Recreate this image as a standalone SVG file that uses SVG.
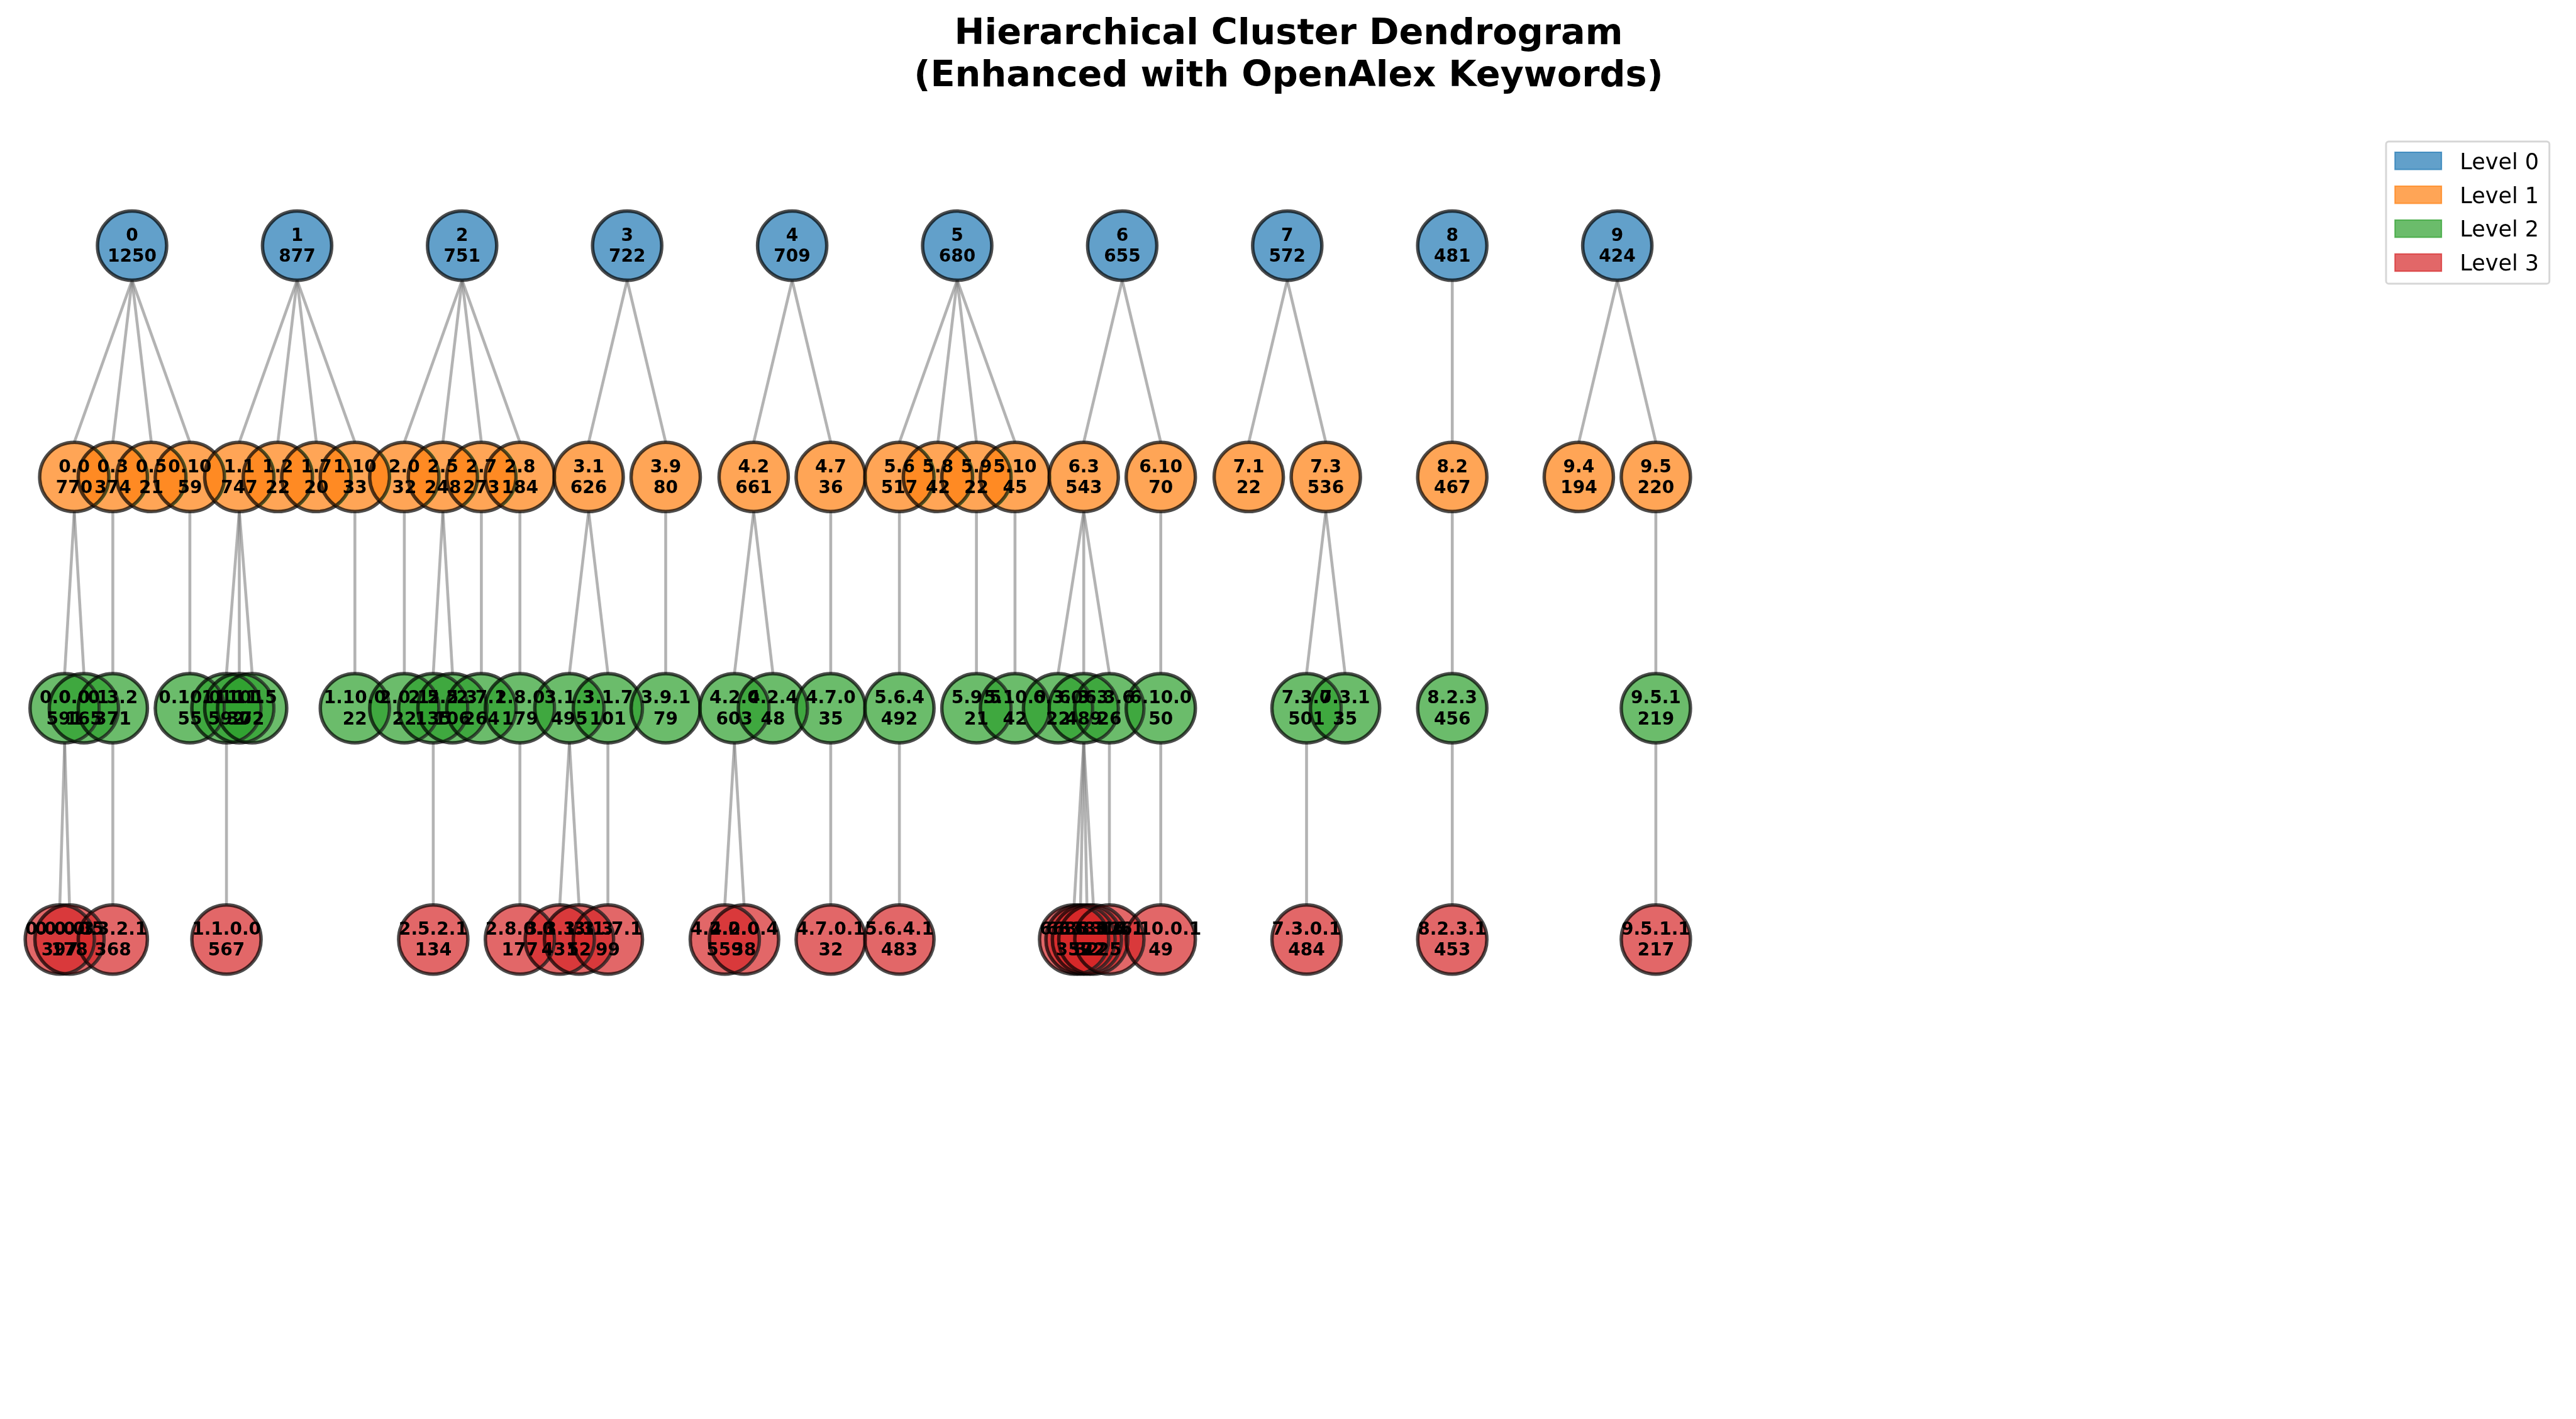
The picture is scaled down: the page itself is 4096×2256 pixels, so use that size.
<svg xmlns="http://www.w3.org/2000/svg" width="4096" height="2256" viewBox="0 0 4096 2256">
<style>
.bg{fill:#fff}
.title{font-family:"DejaVu Sans",sans-serif;font-weight:bold;font-size:57.3px;text-anchor:middle;fill:#000}
.edges line{stroke:#808080;stroke-opacity:.6;stroke-width:4.6;stroke-linecap:butt}
.node circle{stroke:#000;stroke-opacity:.7;stroke-width:5.5;fill-opacity:.7;mix-blend-mode:darken}
.node text{font-family:"DejaVu Sans",sans-serif;font-weight:bold;font-size:28px;text-anchor:middle;fill:#000}
.lv0 circle{fill:#1f77b4}
.lv1 circle{fill:#ff7f0e}
.lv2 circle{fill:#2ca02c}
.lv3 circle{fill:#d62728}
.legend-frame{fill:#fff;fill-opacity:.8;stroke:#ccc;stroke-opacity:.8;stroke-width:2.9}
.patch{fill-opacity:.7;stroke-opacity:.7;stroke-width:2}
.legend text{font-family:"DejaVu Sans",sans-serif;font-size:35px;fill:#000}
</style>
<rect class="bg" x="0" y="0" width="4096" height="2256"/>
<g id="title">
<text class="title" x="2049" y="70">Hierarchical Cluster Dendrogram</text>
<text class="title" x="2049" y="136.5">(Enhanced with OpenAlex Keywords)</text>
</g>
<g id="connectors" class="edges">
<line x1="210.0" y1="445.6" x2="118.1" y2="703.3"/>
<line x1="210.0" y1="445.6" x2="179.4" y2="703.3"/>
<line x1="210.0" y1="445.6" x2="240.6" y2="703.3"/>
<line x1="210.0" y1="445.6" x2="301.9" y2="703.3"/>
<line x1="472.4" y1="445.6" x2="380.5" y2="703.3"/>
<line x1="472.4" y1="445.6" x2="441.8" y2="703.3"/>
<line x1="472.4" y1="445.6" x2="503.0" y2="703.3"/>
<line x1="472.4" y1="445.6" x2="564.3" y2="703.3"/>
<line x1="734.8" y1="445.6" x2="642.9" y2="703.3"/>
<line x1="734.8" y1="445.6" x2="704.2" y2="703.3"/>
<line x1="734.8" y1="445.6" x2="765.4" y2="703.3"/>
<line x1="734.8" y1="445.6" x2="826.7" y2="703.3"/>
<line x1="997.2" y1="445.6" x2="936.0" y2="703.3"/>
<line x1="997.2" y1="445.6" x2="1058.5" y2="703.3"/>
<line x1="1259.6" y1="445.6" x2="1198.4" y2="703.3"/>
<line x1="1259.6" y1="445.6" x2="1320.9" y2="703.3"/>
<line x1="1522.0" y1="445.6" x2="1430.1" y2="703.3"/>
<line x1="1522.0" y1="445.6" x2="1491.4" y2="703.3"/>
<line x1="1522.0" y1="445.6" x2="1552.6" y2="703.3"/>
<line x1="1522.0" y1="445.6" x2="1613.9" y2="703.3"/>
<line x1="1784.4" y1="445.6" x2="1723.2" y2="703.3"/>
<line x1="1784.4" y1="445.6" x2="1845.7" y2="703.3"/>
<line x1="2046.8" y1="445.6" x2="1985.6" y2="703.3"/>
<line x1="2046.8" y1="445.6" x2="2108.1" y2="703.3"/>
<line x1="2309.2" y1="445.6" x2="2309.2" y2="703.3"/>
<line x1="2571.6" y1="445.6" x2="2510.4" y2="703.3"/>
<line x1="2571.6" y1="445.6" x2="2632.9" y2="703.3"/>
<line x1="118.1" y1="813.3" x2="102.8" y2="1071.0"/>
<line x1="118.1" y1="813.3" x2="133.4" y2="1071.0"/>
<line x1="179.4" y1="813.3" x2="179.4" y2="1071.0"/>
<line x1="301.9" y1="813.3" x2="301.9" y2="1071.0"/>
<line x1="380.5" y1="813.3" x2="360.1" y2="1071.0"/>
<line x1="380.5" y1="813.3" x2="380.5" y2="1071.0"/>
<line x1="380.5" y1="813.3" x2="400.9" y2="1071.0"/>
<line x1="564.3" y1="813.3" x2="564.3" y2="1071.0"/>
<line x1="642.9" y1="813.3" x2="642.9" y2="1071.0"/>
<line x1="704.2" y1="813.3" x2="688.9" y2="1071.0"/>
<line x1="704.2" y1="813.3" x2="719.5" y2="1071.0"/>
<line x1="765.4" y1="813.3" x2="765.4" y2="1071.0"/>
<line x1="826.7" y1="813.3" x2="826.7" y2="1071.0"/>
<line x1="936.0" y1="813.3" x2="905.4" y2="1071.0"/>
<line x1="936.0" y1="813.3" x2="966.6" y2="1071.0"/>
<line x1="1058.5" y1="813.3" x2="1058.5" y2="1071.0"/>
<line x1="1198.4" y1="813.3" x2="1167.8" y2="1071.0"/>
<line x1="1198.4" y1="813.3" x2="1229.0" y2="1071.0"/>
<line x1="1320.9" y1="813.3" x2="1320.9" y2="1071.0"/>
<line x1="1430.1" y1="813.3" x2="1430.1" y2="1071.0"/>
<line x1="1552.6" y1="813.3" x2="1552.6" y2="1071.0"/>
<line x1="1613.9" y1="813.3" x2="1613.9" y2="1071.0"/>
<line x1="1723.2" y1="813.3" x2="1682.4" y2="1071.0"/>
<line x1="1723.2" y1="813.3" x2="1723.2" y2="1071.0"/>
<line x1="1723.2" y1="813.3" x2="1764.0" y2="1071.0"/>
<line x1="1845.7" y1="813.3" x2="1845.7" y2="1071.0"/>
<line x1="2108.1" y1="813.3" x2="2077.5" y2="1071.0"/>
<line x1="2108.1" y1="813.3" x2="2138.7" y2="1071.0"/>
<line x1="2309.2" y1="813.3" x2="2309.2" y2="1071.0"/>
<line x1="2632.9" y1="813.3" x2="2632.9" y2="1071.0"/>
<line x1="102.8" y1="1181.0" x2="95.1" y2="1438.7"/>
<line x1="102.8" y1="1181.0" x2="110.5" y2="1438.7"/>
<line x1="179.4" y1="1181.0" x2="179.4" y2="1438.7"/>
<line x1="360.1" y1="1181.0" x2="360.1" y2="1438.7"/>
<line x1="688.9" y1="1181.0" x2="688.9" y2="1438.7"/>
<line x1="826.7" y1="1181.0" x2="826.7" y2="1438.7"/>
<line x1="905.4" y1="1181.0" x2="890.1" y2="1438.7"/>
<line x1="905.4" y1="1181.0" x2="920.7" y2="1438.7"/>
<line x1="966.6" y1="1181.0" x2="966.6" y2="1438.7"/>
<line x1="1167.8" y1="1181.0" x2="1152.5" y2="1438.7"/>
<line x1="1167.8" y1="1181.0" x2="1183.1" y2="1438.7"/>
<line x1="1320.9" y1="1181.0" x2="1320.9" y2="1438.7"/>
<line x1="1430.1" y1="1181.0" x2="1430.1" y2="1438.7"/>
<line x1="1723.2" y1="1181.0" x2="1707.9" y2="1438.7"/>
<line x1="1723.2" y1="1181.0" x2="1718.1" y2="1438.7"/>
<line x1="1723.2" y1="1181.0" x2="1728.3" y2="1438.7"/>
<line x1="1723.2" y1="1181.0" x2="1738.5" y2="1438.7"/>
<line x1="1764.0" y1="1181.0" x2="1764.0" y2="1438.7"/>
<line x1="1845.7" y1="1181.0" x2="1845.7" y2="1438.7"/>
<line x1="2077.5" y1="1181.0" x2="2077.5" y2="1438.7"/>
<line x1="2309.2" y1="1181.0" x2="2309.2" y2="1438.7"/>
<line x1="2632.9" y1="1181.0" x2="2632.9" y2="1438.7"/>
</g>
<g id="nodes">
<g id="node-0" class="node lv0"><circle cx="210.0" cy="390.6" r="55"/><text x="210.0" y="382.8">0<tspan x="210.0" dy="33.5">1250</tspan></text></g>
<g id="node-1" class="node lv0"><circle cx="472.4" cy="390.6" r="55"/><text x="472.4" y="382.8">1<tspan x="472.4" dy="33.5">877</tspan></text></g>
<g id="node-2" class="node lv0"><circle cx="734.8" cy="390.6" r="55"/><text x="734.8" y="382.8">2<tspan x="734.8" dy="33.5">751</tspan></text></g>
<g id="node-3" class="node lv0"><circle cx="997.2" cy="390.6" r="55"/><text x="997.2" y="382.8">3<tspan x="997.2" dy="33.5">722</tspan></text></g>
<g id="node-4" class="node lv0"><circle cx="1259.6" cy="390.6" r="55"/><text x="1259.6" y="382.8">4<tspan x="1259.6" dy="33.5">709</tspan></text></g>
<g id="node-5" class="node lv0"><circle cx="1522.0" cy="390.6" r="55"/><text x="1522.0" y="382.8">5<tspan x="1522.0" dy="33.5">680</tspan></text></g>
<g id="node-6" class="node lv0"><circle cx="1784.4" cy="390.6" r="55"/><text x="1784.4" y="382.8">6<tspan x="1784.4" dy="33.5">655</tspan></text></g>
<g id="node-7" class="node lv0"><circle cx="2046.8" cy="390.6" r="55"/><text x="2046.8" y="382.8">7<tspan x="2046.8" dy="33.5">572</tspan></text></g>
<g id="node-8" class="node lv0"><circle cx="2309.2" cy="390.6" r="55"/><text x="2309.2" y="382.8">8<tspan x="2309.2" dy="33.5">481</tspan></text></g>
<g id="node-9" class="node lv0"><circle cx="2571.6" cy="390.6" r="55"/><text x="2571.6" y="382.8">9<tspan x="2571.6" dy="33.5">424</tspan></text></g>

<g id="node-0-0" class="node lv1"><circle cx="118.1" cy="758.3" r="55"/><text x="118.1" y="750.5">0.0<tspan x="118.1" dy="33.5">770</tspan></text></g>
<g id="node-0-3" class="node lv1"><circle cx="179.4" cy="758.3" r="55"/><text x="179.4" y="750.5">0.3<tspan x="179.4" dy="33.5">374</tspan></text></g>
<g id="node-0-5" class="node lv1"><circle cx="240.6" cy="758.3" r="55"/><text x="240.6" y="750.5">0.5<tspan x="240.6" dy="33.5">21</tspan></text></g>
<g id="node-0-10" class="node lv1"><circle cx="301.9" cy="758.3" r="55"/><text x="301.9" y="750.5">0.10<tspan x="301.9" dy="33.5">59</tspan></text></g>
<g id="node-1-1" class="node lv1"><circle cx="380.5" cy="758.3" r="55"/><text x="380.5" y="750.5">1.1<tspan x="380.5" dy="33.5">747</tspan></text></g>
<g id="node-1-2" class="node lv1"><circle cx="441.8" cy="758.3" r="55"/><text x="441.8" y="750.5">1.2<tspan x="441.8" dy="33.5">22</tspan></text></g>
<g id="node-1-7" class="node lv1"><circle cx="503.0" cy="758.3" r="55"/><text x="503.0" y="750.5">1.7<tspan x="503.0" dy="33.5">20</tspan></text></g>
<g id="node-1-10" class="node lv1"><circle cx="564.3" cy="758.3" r="55"/><text x="564.3" y="750.5">1.10<tspan x="564.3" dy="33.5">33</tspan></text></g>
<g id="node-2-0" class="node lv1"><circle cx="642.9" cy="758.3" r="55"/><text x="642.9" y="750.5">2.0<tspan x="642.9" dy="33.5">32</tspan></text></g>
<g id="node-2-5" class="node lv1"><circle cx="704.2" cy="758.3" r="55"/><text x="704.2" y="750.5">2.5<tspan x="704.2" dy="33.5">248</tspan></text></g>
<g id="node-2-7" class="node lv1"><circle cx="765.4" cy="758.3" r="55"/><text x="765.4" y="750.5">2.7<tspan x="765.4" dy="33.5">273</tspan></text></g>
<g id="node-2-8" class="node lv1"><circle cx="826.7" cy="758.3" r="55"/><text x="826.7" y="750.5">2.8<tspan x="826.7" dy="33.5">184</tspan></text></g>
<g id="node-3-1" class="node lv1"><circle cx="936.0" cy="758.3" r="55"/><text x="936.0" y="750.5">3.1<tspan x="936.0" dy="33.5">626</tspan></text></g>
<g id="node-3-9" class="node lv1"><circle cx="1058.5" cy="758.3" r="55"/><text x="1058.5" y="750.5">3.9<tspan x="1058.5" dy="33.5">80</tspan></text></g>
<g id="node-4-2" class="node lv1"><circle cx="1198.4" cy="758.3" r="55"/><text x="1198.4" y="750.5">4.2<tspan x="1198.4" dy="33.5">661</tspan></text></g>
<g id="node-4-7" class="node lv1"><circle cx="1320.9" cy="758.3" r="55"/><text x="1320.9" y="750.5">4.7<tspan x="1320.9" dy="33.5">36</tspan></text></g>
<g id="node-5-6" class="node lv1"><circle cx="1430.1" cy="758.3" r="55"/><text x="1430.1" y="750.5">5.6<tspan x="1430.1" dy="33.5">517</tspan></text></g>
<g id="node-5-8" class="node lv1"><circle cx="1491.4" cy="758.3" r="55"/><text x="1491.4" y="750.5">5.8<tspan x="1491.4" dy="33.5">42</tspan></text></g>
<g id="node-5-9" class="node lv1"><circle cx="1552.6" cy="758.3" r="55"/><text x="1552.6" y="750.5">5.9<tspan x="1552.6" dy="33.5">22</tspan></text></g>
<g id="node-5-10" class="node lv1"><circle cx="1613.9" cy="758.3" r="55"/><text x="1613.9" y="750.5">5.10<tspan x="1613.9" dy="33.5">45</tspan></text></g>
<g id="node-6-3" class="node lv1"><circle cx="1723.2" cy="758.3" r="55"/><text x="1723.2" y="750.5">6.3<tspan x="1723.2" dy="33.5">543</tspan></text></g>
<g id="node-6-10" class="node lv1"><circle cx="1845.7" cy="758.3" r="55"/><text x="1845.7" y="750.5">6.10<tspan x="1845.7" dy="33.5">70</tspan></text></g>
<g id="node-7-1" class="node lv1"><circle cx="1985.6" cy="758.3" r="55"/><text x="1985.6" y="750.5">7.1<tspan x="1985.6" dy="33.5">22</tspan></text></g>
<g id="node-7-3" class="node lv1"><circle cx="2108.1" cy="758.3" r="55"/><text x="2108.1" y="750.5">7.3<tspan x="2108.1" dy="33.5">536</tspan></text></g>
<g id="node-8-2" class="node lv1"><circle cx="2309.2" cy="758.3" r="55"/><text x="2309.2" y="750.5">8.2<tspan x="2309.2" dy="33.5">467</tspan></text></g>
<g id="node-9-4" class="node lv1"><circle cx="2510.4" cy="758.3" r="55"/><text x="2510.4" y="750.5">9.4<tspan x="2510.4" dy="33.5">194</tspan></text></g>
<g id="node-9-5" class="node lv1"><circle cx="2632.9" cy="758.3" r="55"/><text x="2632.9" y="750.5">9.5<tspan x="2632.9" dy="33.5">220</tspan></text></g>

<g id="node-0-0-0" class="node lv2"><circle cx="102.8" cy="1126.0" r="55"/><text x="102.8" y="1118.2">0.0.0<tspan x="102.8" dy="33.5">591</tspan></text></g>
<g id="node-0-0-1" class="node lv2"><circle cx="133.4" cy="1126.0" r="55"/><text x="133.4" y="1118.2">0.0.1<tspan x="133.4" dy="33.5">165</tspan></text></g>
<g id="node-0-3-2" class="node lv2"><circle cx="179.4" cy="1126.0" r="55"/><text x="179.4" y="1118.2">0.3.2<tspan x="179.4" dy="33.5">371</tspan></text></g>
<g id="node-0-10-0" class="node lv2"><circle cx="301.9" cy="1126.0" r="55"/><text x="301.9" y="1118.2">0.10.0<tspan x="301.9" dy="33.5">55</tspan></text></g>
<g id="node-1-1-0" class="node lv2"><circle cx="360.1" cy="1126.0" r="55"/><text x="360.1" y="1118.2">1.1.0<tspan x="360.1" dy="33.5">592</tspan></text></g>
<g id="node-1-1-1" class="node lv2"><circle cx="380.5" cy="1126.0" r="55"/><text x="380.5" y="1118.2">1.1.1<tspan x="380.5" dy="33.5">30</tspan></text></g>
<g id="node-1-1-5" class="node lv2"><circle cx="400.9" cy="1126.0" r="55"/><text x="400.9" y="1118.2">1.1.5<tspan x="400.9" dy="33.5">72</tspan></text></g>
<g id="node-1-10-0" class="node lv2"><circle cx="564.3" cy="1126.0" r="55"/><text x="564.3" y="1118.2">1.10.0<tspan x="564.3" dy="33.5">22</tspan></text></g>
<g id="node-2-0-1" class="node lv2"><circle cx="642.9" cy="1126.0" r="55"/><text x="642.9" y="1118.2">2.0.1<tspan x="642.9" dy="33.5">22</tspan></text></g>
<g id="node-2-5-2" class="node lv2"><circle cx="688.9" cy="1126.0" r="55"/><text x="688.9" y="1118.2">2.5.2<tspan x="688.9" dy="33.5">135</tspan></text></g>
<g id="node-2-5-3" class="node lv2"><circle cx="719.5" cy="1126.0" r="55"/><text x="719.5" y="1118.2">2.5.3<tspan x="719.5" dy="33.5">106</tspan></text></g>
<g id="node-2-7-1" class="node lv2"><circle cx="765.4" cy="1126.0" r="55"/><text x="765.4" y="1118.2">2.7.1<tspan x="765.4" dy="33.5">264</tspan></text></g>
<g id="node-2-8-0" class="node lv2"><circle cx="826.7" cy="1126.0" r="55"/><text x="826.7" y="1118.2">2.8.0<tspan x="826.7" dy="33.5">179</tspan></text></g>
<g id="node-3-1-3" class="node lv2"><circle cx="905.4" cy="1126.0" r="55"/><text x="905.4" y="1118.2">3.1.3<tspan x="905.4" dy="33.5">495</tspan></text></g>
<g id="node-3-1-7" class="node lv2"><circle cx="966.6" cy="1126.0" r="55"/><text x="966.6" y="1118.2">3.1.7<tspan x="966.6" dy="33.5">101</tspan></text></g>
<g id="node-3-9-1" class="node lv2"><circle cx="1058.5" cy="1126.0" r="55"/><text x="1058.5" y="1118.2">3.9.1<tspan x="1058.5" dy="33.5">79</tspan></text></g>
<g id="node-4-2-0" class="node lv2"><circle cx="1167.8" cy="1126.0" r="55"/><text x="1167.8" y="1118.2">4.2.0<tspan x="1167.8" dy="33.5">603</tspan></text></g>
<g id="node-4-2-4" class="node lv2"><circle cx="1229.0" cy="1126.0" r="55"/><text x="1229.0" y="1118.2">4.2.4<tspan x="1229.0" dy="33.5">48</tspan></text></g>
<g id="node-4-7-0" class="node lv2"><circle cx="1320.9" cy="1126.0" r="55"/><text x="1320.9" y="1118.2">4.7.0<tspan x="1320.9" dy="33.5">35</tspan></text></g>
<g id="node-5-6-4" class="node lv2"><circle cx="1430.1" cy="1126.0" r="55"/><text x="1430.1" y="1118.2">5.6.4<tspan x="1430.1" dy="33.5">492</tspan></text></g>
<g id="node-5-9-5" class="node lv2"><circle cx="1552.6" cy="1126.0" r="55"/><text x="1552.6" y="1118.2">5.9.5<tspan x="1552.6" dy="33.5">21</tspan></text></g>
<g id="node-5-10-0" class="node lv2"><circle cx="1613.9" cy="1126.0" r="55"/><text x="1613.9" y="1118.2">5.10.0<tspan x="1613.9" dy="33.5">42</tspan></text></g>
<g id="node-6-3-0" class="node lv2"><circle cx="1682.4" cy="1126.0" r="55"/><text x="1682.4" y="1118.2">6.3.0<tspan x="1682.4" dy="33.5">22</tspan></text></g>
<g id="node-6-3-3" class="node lv2"><circle cx="1723.2" cy="1126.0" r="55"/><text x="1723.2" y="1118.2">6.3.3<tspan x="1723.2" dy="33.5">489</tspan></text></g>
<g id="node-6-3-6" class="node lv2"><circle cx="1764.0" cy="1126.0" r="55"/><text x="1764.0" y="1118.2">6.3.6<tspan x="1764.0" dy="33.5">26</tspan></text></g>
<g id="node-6-10-0" class="node lv2"><circle cx="1845.7" cy="1126.0" r="55"/><text x="1845.7" y="1118.2">6.10.0<tspan x="1845.7" dy="33.5">50</tspan></text></g>
<g id="node-7-3-0" class="node lv2"><circle cx="2077.5" cy="1126.0" r="55"/><text x="2077.5" y="1118.2">7.3.0<tspan x="2077.5" dy="33.5">501</tspan></text></g>
<g id="node-7-3-1" class="node lv2"><circle cx="2138.7" cy="1126.0" r="55"/><text x="2138.7" y="1118.2">7.3.1<tspan x="2138.7" dy="33.5">35</tspan></text></g>
<g id="node-8-2-3" class="node lv2"><circle cx="2309.2" cy="1126.0" r="55"/><text x="2309.2" y="1118.2">8.2.3<tspan x="2309.2" dy="33.5">456</tspan></text></g>
<g id="node-9-5-1" class="node lv2"><circle cx="2632.9" cy="1126.0" r="55"/><text x="2632.9" y="1118.2">9.5.1<tspan x="2632.9" dy="33.5">219</tspan></text></g>

<g id="node-0-0-0-3" class="node lv3"><circle cx="95.1" cy="1493.7" r="55"/><text x="95.1" y="1485.9">0.0.0.3<tspan x="95.1" dy="33.5">397</tspan></text></g>
<g id="node-0-0-0-5" class="node lv3"><circle cx="110.5" cy="1493.7" r="55"/><text x="110.5" y="1485.9">0.0.0.5<tspan x="110.5" dy="33.5">178</tspan></text></g>
<g id="node-0-3-2-1" class="node lv3"><circle cx="179.4" cy="1493.7" r="55"/><text x="179.4" y="1485.9">0.3.2.1<tspan x="179.4" dy="33.5">368</tspan></text></g>
<g id="node-1-1-0-0" class="node lv3"><circle cx="360.1" cy="1493.7" r="55"/><text x="360.1" y="1485.9">1.1.0.0<tspan x="360.1" dy="33.5">567</tspan></text></g>
<g id="node-2-5-2-1" class="node lv3"><circle cx="688.9" cy="1493.7" r="55"/><text x="688.9" y="1485.9">2.5.2.1<tspan x="688.9" dy="33.5">134</tspan></text></g>
<g id="node-2-8-0-0" class="node lv3"><circle cx="826.7" cy="1493.7" r="55"/><text x="826.7" y="1485.9">2.8.0.0<tspan x="826.7" dy="33.5">177</tspan></text></g>
<g id="node-3-1-3-1" class="node lv3"><circle cx="890.1" cy="1493.7" r="55"/><text x="890.1" y="1485.9">3.1.3.1<tspan x="890.1" dy="33.5">431</tspan></text></g>
<g id="node-3-1-3-3" class="node lv3"><circle cx="920.7" cy="1493.7" r="55"/><text x="920.7" y="1485.9">3.1.3.3<tspan x="920.7" dy="33.5">52</tspan></text></g>
<g id="node-3-1-7-1" class="node lv3"><circle cx="966.6" cy="1493.7" r="55"/><text x="966.6" y="1485.9">3.1.7.1<tspan x="966.6" dy="33.5">99</tspan></text></g>
<g id="node-4-2-0-0" class="node lv3"><circle cx="1152.5" cy="1493.7" r="55"/><text x="1152.5" y="1485.9">4.2.0.0<tspan x="1152.5" dy="33.5">559</tspan></text></g>
<g id="node-4-2-0-4" class="node lv3"><circle cx="1183.1" cy="1493.7" r="55"/><text x="1183.1" y="1485.9">4.2.0.4<tspan x="1183.1" dy="33.5">38</tspan></text></g>
<g id="node-4-7-0-1" class="node lv3"><circle cx="1320.9" cy="1493.7" r="55"/><text x="1320.9" y="1485.9">4.7.0.1<tspan x="1320.9" dy="33.5">32</tspan></text></g>
<g id="node-5-6-4-1" class="node lv3"><circle cx="1430.1" cy="1493.7" r="55"/><text x="1430.1" y="1485.9">5.6.4.1<tspan x="1430.1" dy="33.5">483</tspan></text></g>
<g id="node-6-3-3-0" class="node lv3"><circle cx="1707.9" cy="1493.7" r="55"/><text x="1707.9" y="1485.9">6.3.3.0<tspan x="1707.9" dy="33.5">359</tspan></text></g>
<g id="node-6-3-3-1" class="node lv3"><circle cx="1718.1" cy="1493.7" r="55"/><text x="1718.1" y="1485.9">6.3.3.1<tspan x="1718.1" dy="33.5">37</tspan></text></g>
<g id="node-6-3-3-2" class="node lv3"><circle cx="1728.3" cy="1493.7" r="55"/><text x="1728.3" y="1485.9">6.3.3.2<tspan x="1728.3" dy="33.5">32</tspan></text></g>
<g id="node-6-3-3-4" class="node lv3"><circle cx="1738.5" cy="1493.7" r="55"/><text x="1738.5" y="1485.9">6.3.3.4<tspan x="1738.5" dy="33.5">22</tspan></text></g>
<g id="node-6-3-6-1" class="node lv3"><circle cx="1764.0" cy="1493.7" r="55"/><text x="1764.0" y="1485.9">6.3.6.1<tspan x="1764.0" dy="33.5">25</tspan></text></g>
<g id="node-6-10-0-1" class="node lv3"><circle cx="1845.7" cy="1493.7" r="55"/><text x="1845.7" y="1485.9">6.10.0.1<tspan x="1845.7" dy="33.5">49</tspan></text></g>
<g id="node-7-3-0-1" class="node lv3"><circle cx="2077.5" cy="1493.7" r="55"/><text x="2077.5" y="1485.9">7.3.0.1<tspan x="2077.5" dy="33.5">484</tspan></text></g>
<g id="node-8-2-3-1" class="node lv3"><circle cx="2309.2" cy="1493.7" r="55"/><text x="2309.2" y="1485.9">8.2.3.1<tspan x="2309.2" dy="33.5">453</tspan></text></g>
<g id="node-9-5-1-1" class="node lv3"><circle cx="2632.9" cy="1493.7" r="55"/><text x="2632.9" y="1485.9">9.5.1.1<tspan x="2632.9" dy="33.5">217</tspan></text></g>
</g>
<g id="legend" class="legend">
<rect class="legend-frame" x="3794" y="225" width="259.7" height="226" rx="4.3"/>
<rect class="patch" x="3808.2" y="242" width="73.9" height="27.5" fill="#1f77b4" stroke="#1f77b4"/>
<text x="3911.3" y="268.6">Level 0</text>
<rect class="patch" x="3808.2" y="295.9" width="73.9" height="27.5" fill="#ff7f0e" stroke="#ff7f0e"/>
<text x="3911.3" y="322.5">Level 1</text>
<rect class="patch" x="3808.2" y="349.8" width="73.9" height="27.5" fill="#2ca02c" stroke="#2ca02c"/>
<text x="3911.3" y="376.4">Level 2</text>
<rect class="patch" x="3808.2" y="403.7" width="73.9" height="27.5" fill="#d62728" stroke="#d62728"/>
<text x="3911.3" y="430.3">Level 3</text>
</g>
</svg>
